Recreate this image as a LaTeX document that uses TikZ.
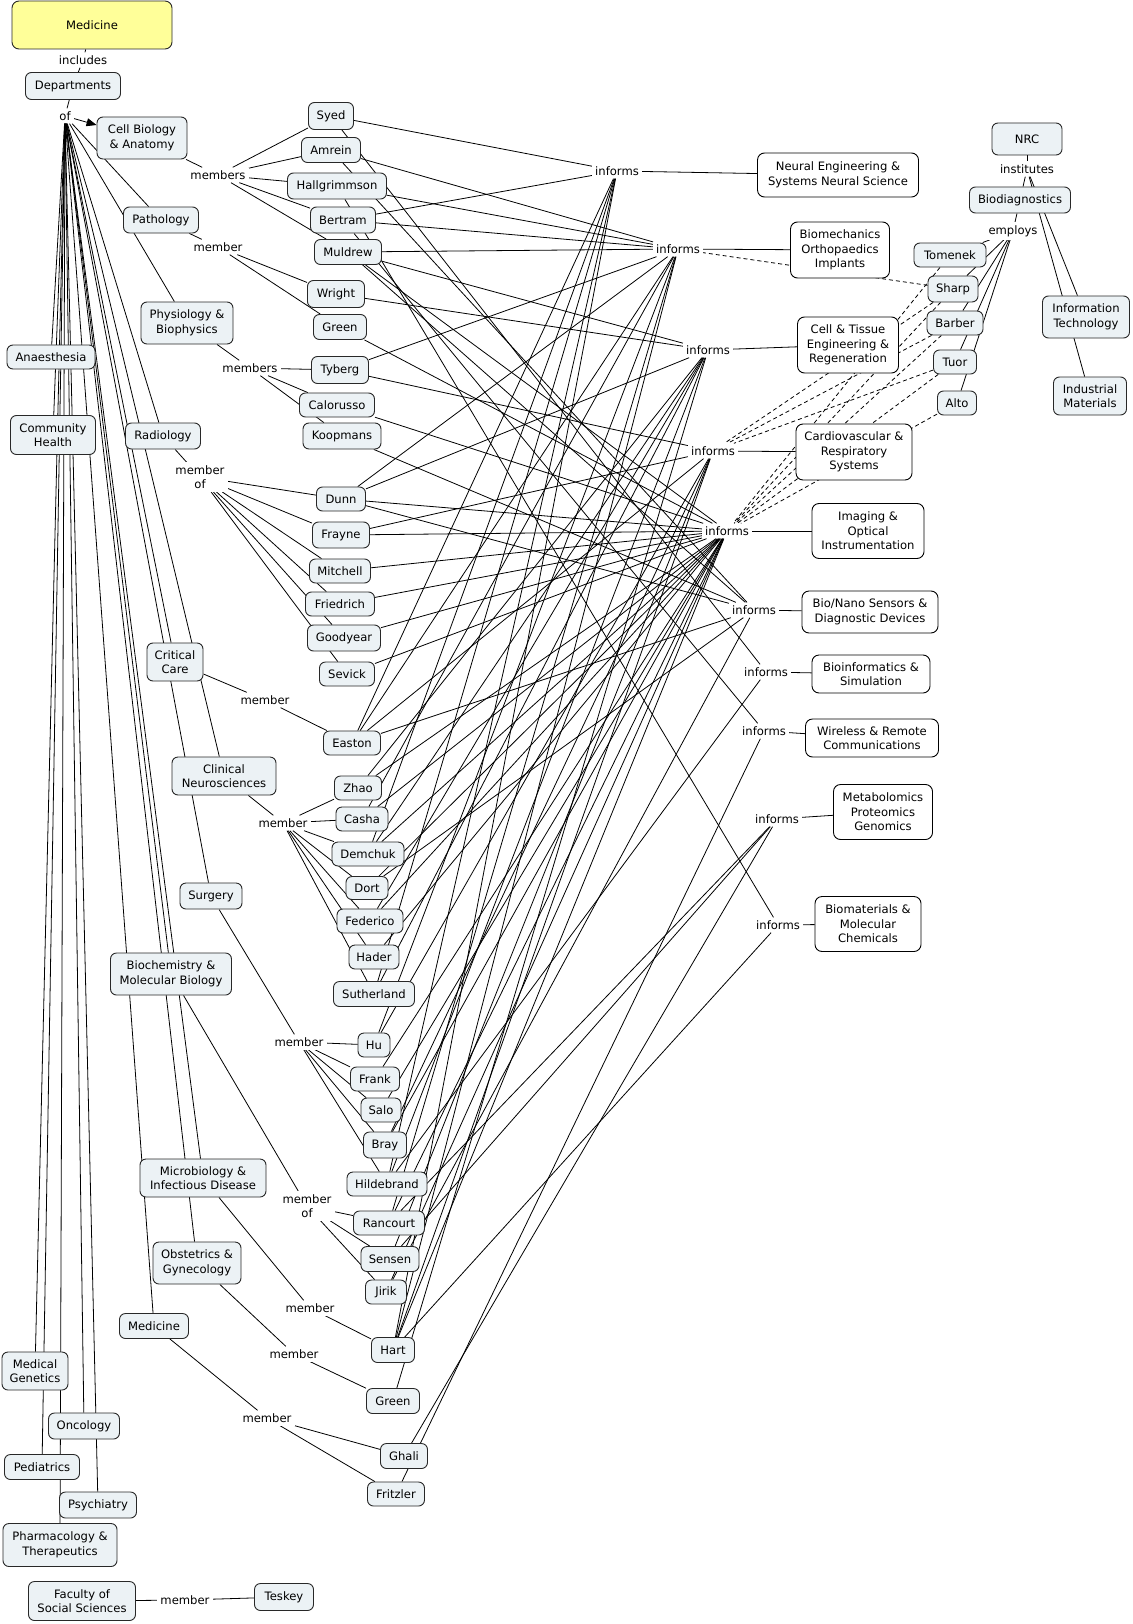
\documentclass[tikz,border=0pt]{standalone}
\usepackage{fontspec}
\setmainfont{DejaVu Sans}
\usetikzlibrary{arrows.meta}
\definecolor{cfill}{RGB}{236,242,245}
\definecolor{yfill}{RGB}{255,255,153}
\definecolor{bord}{RGB}{40,40,40}
\pgfdeclarelayer{bgfill}
\pgfdeclarelayer{background}
\pgfsetlayers{bgfill,background,main}
\newcommand\mkbox[6]{\node[#1, minimum width=#4pt, minimum height=#5pt] (#2) at (#3) {#6};}
\begin{document}
\begin{tikzpicture}[x=1pt,y=-1pt,
  every node/.style={font=\fontsize{11.6}{14.5}\selectfont, align=center, text=black},
  con/.style={draw=bord, fill=cfill, rounded corners=6pt, line width=0.9pt, inner sep=1pt},
  ybox/.style={draw=bord, fill=yfill, rounded corners=7pt, line width=0.9pt, inner sep=1pt},
  topic/.style={draw=black, fill=white, rounded corners=7pt, line width=0.9pt, inner sep=1pt},
  lp/.style={fill=white, inner sep=3pt},
  ln/.style={line width=0.8pt, draw=black},
  dl/.style={line width=0.8pt, draw=black, dash pattern=on 4pt off 3pt}]
\useasboundingbox (0,0) rectangle (1132,1624);
\begin{pgfonlayer}{bgfill}
\fill[white] (0,0) rectangle (1132,1624);
\end{pgfonlayer}

% top and departments
\mkbox{ybox}{med}{92,25}{160}{48}{Medicine}
\node[lp] (includes) at (83,60) {includes};
\mkbox{con}{dept}{73,86}{95}{27}{Departments}
\node[lp] (of) at (65,116) {of};
\mkbox{con}{cellbio}{142,138}{90}{42}{Cell Biology\\\& Anatomy}
\mkbox{con}{path}{161,220}{75}{26}{Pathology}
\mkbox{con}{phys}{187,323}{92}{42}{Physiology \&\\Biophysics}
\mkbox{con}{anaes}{51,357}{88}{24}{Anaesthesia}
\mkbox{con}{comm}{53,435}{85}{39}{Community\\Health}
\mkbox{con}{radio}{163,436}{75}{26}{Radiology}
\mkbox{con}{crit}{175,662}{56}{38}{Critical\\Care}
\mkbox{con}{clin}{224,776}{104}{38}{Clinical\\Neurosciences}
\mkbox{con}{surg}{211,896}{62}{26}{Surgery}
\mkbox{con}{biochem}{171,974}{121}{42}{Biochemistry \&\\Molecular Biology}
\mkbox{con}{micro}{203,1178}{126}{38}{Microbiology \&\\Infectious Disease}
\mkbox{con}{obst}{197,1263}{88}{42}{Obstetrics \&\\Gynecology}
\mkbox{con}{medtwo}{154,1326}{69}{25}{Medicine}
\mkbox{con}{medgen}{35,1371}{66}{38}{Medical\\Genetics}
\mkbox{con}{onco}{84,1426}{71}{26}{Oncology}
\mkbox{con}{pedi}{42,1467}{75}{25}{Pediatrics}
\mkbox{con}{psych}{98,1505}{77}{26}{Psychiatry}
\mkbox{con}{pharm}{60,1545}{114}{43}{Pharmacology \&\\Therapeutics}
\mkbox{con}{fss}{82,1601}{107}{39}{Faculty of\\Social Sciences}
\mkbox{con}{teskey}{284,1597}{59}{27}{Teskey}

% linking phrases (members)
\node[lp] (lma) at (218,175) {members};
\node[lp] (lmb) at (218,247) {member};
\node[lp] (lmc) at (250,368) {members};
\node[lp] (lmd) at (200,477) {member\\of};
\node[lp] (lme) at (265,700) {member};
\node[lp] (lmf) at (283,823) {member};
\node[lp] (lmg) at (299,1042) {member};
\node[lp] (lmh) at (307,1206) {member\\of};
\node[lp] (lmi) at (310,1308) {member};
\node[lp] (lmj) at (294,1354) {member};
\node[lp] (lmk) at (267,1418) {member};
\node[lp] (lml) at (185,1600) {member};

% persons
\mkbox{con}{syed}{331,116}{45}{27}{Syed}
\mkbox{con}{amrein}{331,150}{59}{25}{Amrein}
\mkbox{con}{hall}{337,186}{99}{26}{Hallgrimmson}
\mkbox{con}{bertram}{343,220}{65}{26}{Bertram}
\mkbox{con}{muldrew}{348,252}{67}{25}{Muldrew}
\mkbox{con}{wright}{336,294}{57}{27}{Wright}
\mkbox{con}{greena}{340,327}{53}{25}{Green}
\mkbox{con}{tyberg}{340,370}{57}{27}{Tyberg}
\mkbox{con}{calorusso}{337,405}{75}{24}{Calorusso}
\mkbox{con}{koopmans}{342,436}{78}{26}{Koopmans}
\mkbox{con}{dunn}{341,499}{49}{24}{Dunn}
\mkbox{con}{frayne}{341,535}{57}{26}{Frayne}
\mkbox{con}{mitchell}{340,571}{61}{24}{Mitchell}
\mkbox{con}{friedrich}{340,604}{69}{24}{Friedrich}
\mkbox{con}{goodyear}{344,638}{73}{26}{Goodyear}
\mkbox{con}{sevick}{347,674}{55}{24}{Sevick}
\mkbox{con}{easton}{352,743}{57}{24}{Easton}
\mkbox{con}{zhao}{358,788}{47}{24}{Zhao}
\mkbox{con}{casha}{362,819}{52}{24}{Casha}
\mkbox{con}{demchuk}{368,854}{72}{24}{Demchuk}
\mkbox{con}{dort}{367,888}{42}{23}{Dort}
\mkbox{con}{federico}{370,921}{66}{24}{Federico}
\mkbox{con}{hader}{374,957}{50}{24}{Hader}
\mkbox{con}{sutherland}{374,994}{81}{25}{Sutherland}
\mkbox{con}{hu}{374,1045}{32}{24}{Hu}
\mkbox{con}{frank}{375,1079}{49}{24}{Frank}
\mkbox{con}{salo}{381,1110}{40}{24}{Salo}
\mkbox{con}{bray}{385,1145}{43}{26}{Bray}
\mkbox{con}{hildebrand}{387,1184}{80}{24}{Hildebrand}
\mkbox{con}{rancourt}{389,1223}{71}{24}{Rancourt}
\mkbox{con}{sensen}{390,1259}{58}{25}{Sensen}
\mkbox{con}{jirik}{386,1292}{41}{24}{Jirik}
\mkbox{con}{hart}{393,1350}{43}{25}{Hart}
\mkbox{con}{greenb}{393,1401}{53}{25}{Green}
\mkbox{con}{ghali}{404,1456}{47}{25}{Ghali}
\mkbox{con}{fritzler}{396,1494}{57}{24}{Fritzler}

% informs
\node[lp] (ia) at (617,171) {informs};
\node[lp] (ib) at (678,249) {informs};
\node[lp] (ic) at (708,350) {informs};
\node[lp] (id) at (713,451) {informs};
\node[lp] (ie) at (727,531) {informs};
\node[lp] (if) at (754,610) {informs};
\node[lp] (ig) at (766,672) {informs};
\node[lp] (ih) at (764,731) {informs};
\node[lp] (ii) at (777,819) {informs};
\node[lp] (ij) at (778,925) {informs};

% topics
\mkbox{topic}{neural}{838,175}{161}{44}{Neural Engineering \&\\Systems Neural Science}
\mkbox{topic}{biomech}{840,250}{99}{56}{Biomechanics\\Orthopaedics\\Implants}
\mkbox{topic}{celltis}{848,345}{101}{56}{Cell \& Tissue\\Engineering \&\\Regeneration}
\mkbox{topic}{cardio}{854,452}{116}{56}{Cardiovascular \&\\Respiratory\\Systems}
\mkbox{topic}{imaging}{868,531}{112}{55}{Imaging \&\\Optical\\Instrumentation}
\mkbox{topic}{bionano}{870,612}{136}{42}{Bio/Nano Sensors \&\\Diagnostic Devices}
\mkbox{topic}{bioinf}{871,674}{118}{38}{Bioinformatics \&\\Simulation}
\mkbox{topic}{wireless}{872,738}{133}{38}{Wireless \& Remote\\Communications}
\mkbox{topic}{metab}{883,812}{99}{55}{Metabolomics\\Proteomics\\Genomics}
\mkbox{topic}{biomat}{868,924}{106}{55}{Biomaterials \&\\Molecular\\Chemicals}

% NRC side
\mkbox{con}{nrc}{1027,139}{70}{32}{NRC}
\node[lp] (institutes) at (1027,169) {institutes};
\mkbox{con}{biodiag}{1020,200}{101}{26}{Biodiagnostics}
\node[lp] (employs) at (1013,231) {employs};
\mkbox{con}{tomenek}{950,255}{72}{24}{Tomenek}
\mkbox{con}{sharp}{953,289}{50}{26}{Sharp}
\mkbox{con}{barber}{955,323}{56}{24}{Barber}
\mkbox{con}{tuor}{955,362}{43}{24}{Tuor}
\mkbox{con}{alto}{957,403}{39}{24}{Alto}
\mkbox{con}{infotech}{1086,317}{87}{42}{Information\\Technology}
\mkbox{con}{indmat}{1090,396}{73}{38}{Industrial\\Materials}

\begin{pgfonlayer}{background}
\draw[ln] (med) -- (includes);
\draw[ln] (includes) -- (dept);
\draw[ln] (dept) -- (of);
\draw[ln, -{Triangle[length=10pt,width=8pt]}] (of) -- (cellbio);
\foreach \d in {path,phys,anaes,comm,radio,crit,clin,surg,biochem,micro,obst,medtwo,medgen,onco,pedi,psych,pharm}
  \draw[ln] (of) -- (\d);
% members
\draw[ln] (cellbio) -- (lma);
\foreach \p in {syed,amrein,hall,bertram,muldrew} \draw[ln] (lma) -- (\p);
\draw[ln] (path) -- (lmb);
\foreach \p in {wright,greena} \draw[ln] (lmb) -- (\p);
\draw[ln] (phys) -- (lmc);
\foreach \p in {tyberg,calorusso,koopmans} \draw[ln] (lmc) -- (\p);
\draw[ln] (radio) -- (lmd);
\foreach \p in {dunn,frayne,mitchell,friedrich,goodyear,sevick} \draw[ln] (lmd) -- (\p);
\draw[ln] (crit) -- (lme);
\draw[ln] (lme) -- (easton);
\draw[ln] (clin) -- (lmf);
\foreach \p in {zhao,casha,demchuk,dort,federico,hader,sutherland} \draw[ln] (lmf) -- (\p);
\draw[ln] (surg) -- (lmg);
\foreach \p in {hu,frank,salo,bray,hildebrand} \draw[ln] (lmg) -- (\p);
\draw[ln] (biochem) -- (lmh);
\foreach \p in {rancourt,sensen,jirik} \draw[ln] (lmh) -- (\p);
\draw[ln] (micro) -- (lmi);
\draw[ln] (lmi) -- (hart);
\draw[ln] (obst) -- (lmj);
\draw[ln] (lmj) -- (greenb);
\draw[ln] (medtwo) -- (lmk);
\foreach \p in {ghali,fritzler} \draw[ln] (lmk) -- (\p);
\draw[ln] (fss) -- (lml);
\draw[ln] (lml) -- (teskey);
% informs to topics
\foreach \i/\t in {ia/neural,ib/biomech,ic/celltis,id/cardio,ie/imaging,if/bionano,ig/bioinf,ih/wireless,ii/metab,ij/biomat}
  \draw[ln] (\i) -- (\t);
% persons to informs
\foreach \p/\i in {syed/ia,syed/ig,amrein/ib,amrein/if,hall/ib,hall/ij,
  bertram/ia,bertram/ib,bertram/ih,muldrew/ib,muldrew/ic,muldrew/ie,muldrew/if,
  wright/ic,greena/ie,tyberg/ib,tyberg/id,calorusso/ie,koopmans/if,
  dunn/ib,dunn/ic,dunn/ie,dunn/if,frayne/id,frayne/ie,mitchell/ie,friedrich/ie,
  goodyear/ie,sevick/ie,easton/ia,easton/ib,easton/id,easton/if,
  zhao/ic,zhao/ie,casha/ib,casha/ie,demchuk/ia,demchuk/ic,demchuk/ie,
  dort/ie,dort/if,federico/ic,federico/ie,hader/ie,sutherland/ia,sutherland/ic,
  hu/ib,hu/id,frank/ie,salo/ie,bray/id,bray/ie,
  hildebrand/ia,hildebrand/ic,hildebrand/ig,rancourt/ib,rancourt/ie,rancourt/ii,
  sensen/id,sensen/ii,jirik/ie,jirik/if,hart/ia,hart/ib,hart/id,hart/ie,hart/ij,
  greenb/ic,ghali/ii,fritzler/ih}
  \draw[ln] (\p) -- (\i);
% NRC
\draw[ln] (nrc) -- (institutes);
\foreach \t in {biodiag,infotech,indmat} \draw[ln] (institutes) -- (\t);
\draw[ln] (biodiag) -- (employs);
\foreach \p in {tomenek,sharp,barber,tuor,alto} \draw[ln] (employs) -- (\p);
\foreach \p/\i in {sharp/ib,sharp/id,sharp/ie,tomenek/ie,barber/id,barber/ie,tuor/id,tuor/ie,alto/ie}
  \draw[dl] (\p) -- (\i);
\end{pgfonlayer}
\end{tikzpicture}
\end{document}
